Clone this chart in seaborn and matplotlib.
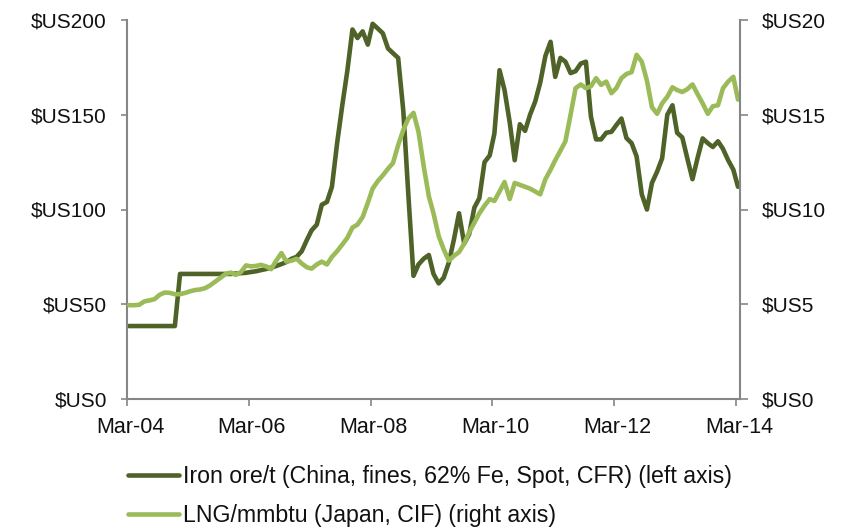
import numpy as np
import pandas as pd
import matplotlib
matplotlib.use("Agg")
import matplotlib.pyplot as plt
import matplotlib.transforms as mtransforms
import seaborn as sns

# ---------------- data ----------------
months = pd.date_range("2004-03-01", periods=121, freq="MS")

iron_ore = [
    38.5, 38.5, 38.5, 38.5, 38.5, 38.5, 38.5, 38.5, 38.5, 38.5,            # Mar-04 .. Dec-04
    66, 66, 66, 66, 66, 66, 66, 66, 66, 66, 66,                            # Jan-05 .. Nov-05
    66.2, 66.4, 66.6, 67, 67.4, 68, 68.6, 69.3, 70.2, 71.2,
    72.3, 74, 75, 78, 84, 89, 92, 102.5, 104, 112,
    135, 155, 173, 195, 190.5, 194, 187, 198, 195.5, 193,
    185, 182.5, 180, 152, 108, 65, 71, 74, 76, 66,
    61, 64, 72, 84, 98, 82, 87, 101, 106, 125,
    128.5, 140, 173.5, 163, 146, 126, 145, 141.5, 150, 157,
    167, 181, 188.5, 170, 180, 178, 172, 173, 177, 178,
    149, 137, 137, 140.5, 141, 144.5, 148, 137.7, 135, 128,
    108, 100, 114, 120, 127, 150, 155, 140.5, 138, 127,
    116, 127, 137.5, 135, 133, 136, 132, 126, 121, 112,
]

lng = [
    4.95, 4.95, 4.97, 5.15, 5.2, 5.27, 5.5, 5.62, 5.6, 5.53,
    5.53, 5.6, 5.68, 5.75, 5.78, 5.85, 6.0, 6.2, 6.4, 6.6,
    6.67, 6.55, 6.7, 7.05, 7.0, 7.02, 7.08, 7.0, 6.85, 7.3,
    7.7, 7.25, 7.3, 7.4, 7.15, 6.95, 6.88, 7.1, 7.25, 7.1,
    7.5, 7.8, 8.15, 8.5, 9.05, 9.2, 9.6, 10.35, 11.1, 11.5,
    11.8, 12.15, 12.45, 13.4, 14.2, 14.8, 15.1, 14.1, 12.3, 10.7,
    9.8, 8.6, 7.9, 7.3, 7.55, 7.75, 8.2, 8.8, 9.3, 9.8,
    10.2, 10.55, 10.45, 10.95, 11.45, 10.55, 11.4, 11.3, 11.2, 11.1,
    10.95, 10.8, 11.6, 12.1, 12.6, 13.1, 13.6, 15.0, 16.4, 16.6,
    16.4, 16.5, 16.93, 16.58, 16.75, 16.14, 16.4, 16.93, 17.15, 17.25,
    18.16, 17.8, 16.8, 15.4, 15.05, 15.6, 15.95, 16.45, 16.3, 16.2,
    16.35, 16.6, 16.1, 15.6, 15.05, 15.45, 15.5, 16.4, 16.75, 17.0,
    15.8,
]

x_tick_dates = ["2004-03-01", "2006-03-01", "2008-03-01",
                "2010-03-01", "2012-03-01", "2014-03-01"]
x_tick_labels = ["Mar-04", "Mar-06", "Mar-08", "Mar-10", "Mar-12", "Mar-14"]
left_ticks = [0, 50, 100, 150, 200]
right_ticks = [0, 5, 10, 15, 20]
iron_label = "Iron ore/t (China, fines, 62% Fe, Spot, CFR) (left axis)"
lng_label = "LNG/mmbtu (Japan, CIF) (right axis)"

# ---------------- style ----------------
DARK = "#4F6228"
LIGHT = "#9BBB59"
GREY = "#868686"
TEXT = "#111111"

sns.set_theme(style="white")
plt.rcParams["font.family"] = ["Liberation Sans", "DejaVu Sans"]

df = pd.DataFrame({
    "date": months + pd.Timedelta(days=12),
    "iron": iron_ore,
    "lng": lng,
})

fig = plt.figure(figsize=(8.52, 5.28), dpi=100)
ax = fig.add_axes([127 / 852, 1 - 399 / 528, (740 - 127) / 852, (399 - 20) / 528])
ax2 = ax.twinx()

sns.lineplot(data=df, x="date", y="iron", ax=ax, color=DARK, lw=3.3,
             legend=False)
sns.lineplot(data=df, x="date", y="lng", ax=ax2, color=LIGHT, lw=3.3,
             legend=False)

ax.set_xlim(pd.Timestamp("2004-03-01"), pd.Timestamp("2014-03-25"))
ax.set_ylim(0, 200)
ax2.set_ylim(0, 20)

ax.set_xticks(pd.to_datetime(x_tick_dates))
ax.set_xticklabels(x_tick_labels)
ax.set_yticks(left_ticks)
ax.set_yticklabels([f"$US{v}" for v in left_ticks])
ax2.set_yticks(right_ticks)
ax2.set_yticklabels([f"$US{v}" for v in right_ticks])

for a in (ax, ax2):
    a.set_xlabel("")
    a.set_ylabel("")
    for s in a.spines.values():
        s.set_color(GREY)
        s.set_linewidth(1.5)
    a.spines["top"].set_visible(False)

ax.spines["right"].set_visible(False)
ax2.spines["left"].set_visible(False)
ax2.spines["bottom"].set_visible(False)

ax.tick_params(axis="y", which="major", direction="out", length=4.5, width=1.2,
               color=GREY, labelsize=15, labelcolor=TEXT, pad=10, left=True)
ax.tick_params(axis="x", which="major", direction="out", length=5, width=1.2,
               color=GREY, labelsize=15.5, labelcolor=TEXT, pad=8, bottom=True)
ax2.tick_params(axis="y", which="major", direction="out", length=5.5, width=1.2,
                color=GREY, labelsize=15, labelcolor=TEXT, pad=10, right=True)

shift = mtransforms.ScaledTranslation(3 / 100, 0, fig.dpi_scale_trans)
for t in ax.get_xticklabels():
    t.set_horizontalalignment("center")
    t.set_transform(t.get_transform() + shift)

handles = [ax.get_lines()[0], ax2.get_lines()[0]]
leg = fig.legend(handles, [iron_label, lng_label], loc="upper left",
                 bbox_to_anchor=(128 / 852, 1 - 465 / 528),
                 bbox_transform=fig.transFigure, frameon=False,
                 fontsize=16.7, handlelength=2.2, handletextpad=0.15,
                 labelspacing=0.68, borderpad=0, borderaxespad=0)
for t in leg.get_texts():
    t.set_color(TEXT)

fig.savefig("out.png", dpi=100)
